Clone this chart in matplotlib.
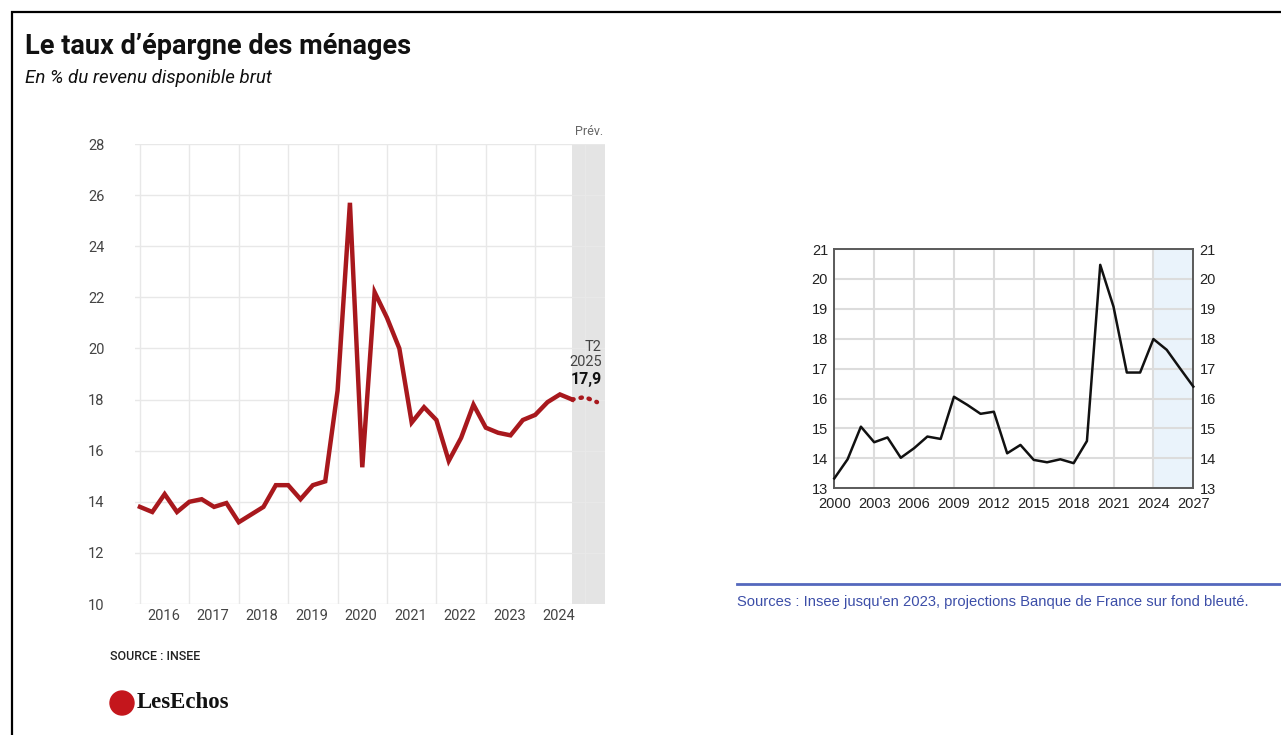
import matplotlib
matplotlib.use("Agg")
import matplotlib.pyplot as plt
from matplotlib.patches import Rectangle, Circle

# ---------------- data ----------------
# Left chart: quarterly savings rate, 2016 T1 .. 2025 T2 (last two = forecast)
left_values = [13.8, 13.6, 14.3, 13.6, 14.0, 14.1, 13.8, 13.95,
               13.2, 13.5, 13.8, 14.65, 14.65, 14.1, 14.65, 14.8,
               18.35, 25.7, 15.35, 22.2, 21.2, 20.0, 17.1, 17.7,
               17.2, 15.6, 16.5, 17.8, 16.9, 16.7, 16.6, 17.2,
               17.4, 17.9, 18.2, 18.0, 18.1, 17.9]
n_actual = 36  # number of published quarters
left_year_labels = ["2016", "2017", "2018", "2019", "2020",
                    "2021", "2022", "2023", "2024"]
left_yticks = [10, 12, 14, 16, 18, 20, 22, 24, 26, 28]

# Right chart: annual savings rate 2000..2027
right_years = list(range(2000, 2028))
right_values = [13.33, 13.97, 15.06, 14.54, 14.7, 14.02, 14.34, 14.73,
                14.65, 16.06, 15.79, 15.49, 15.56, 14.17, 14.45, 13.95,
                13.87, 13.97, 13.84, 14.58, 20.47, 19.07, 16.87, 16.87,
                17.99, 17.63, 17.01, 16.4]
right_xticks = [2000, 2003, 2006, 2009, 2012, 2015, 2018, 2021, 2024, 2027]
right_yticks = [13, 14, 15, 16, 17, 18, 19, 20, 21]
forecast_start_right = 2024

W, H = 1281, 735
fig = plt.figure(figsize=(W / 100, H / 100), dpi=100)
fig.patch.set_facecolor("white")

def fx(px):
    return px / W

def fy(py):
    return 1 - py / H

# outer frame
fig.patches.append(Rectangle((fx(12), fy(760)), fx(1300) - fx(12), fy(12) - fy(760),
                             transform=fig.transFigure, fill=False,
                             edgecolor="black", linewidth=1.6, zorder=0))

# title / subtitle
fig.text(fx(25), fy(46), "Le taux d’épargne des ménages", fontsize=19.5,
         fontweight="bold", family="Roboto", color="#111111", va="center")
fig.text(fx(25), fy(78), "En % du revenu disponible brut", fontsize=13.5,
         style="italic", family="Roboto", color="#111111", va="center")

# ---------------- left chart ----------------
axL = fig.add_axes([fx(135), fy(604), fx(605) - fx(135), fy(144) - fy(604)])
x = list(range(len(left_values)))
axL.set_xlim(-0.4, 37.65)
axL.set_ylim(10, 28)
for s in axL.spines.values():
    s.set_visible(False)
axL.set_yticks(left_yticks)
axL.set_yticklabels([str(v) for v in left_yticks], family="Roboto",
                    fontsize=10.5, color="#444444")
axL.set_xticks([4 * k for k in range(10)])
axL.set_xticklabels([])
axL.tick_params(length=0, pad=22)
axL.grid(True, color="#e8e8e8", linewidth=1)
axL.set_axisbelow(True)
for k, lab in enumerate(left_year_labels):
    axL.text(4 * k + 1.9, 9.82, lab, ha="center", va="top", family="Roboto",
             fontsize=10.5, color="#444444")

# forecast shading
axL.axvspan(n_actual - 1, 37.65, color="#e4e4e4", zorder=0.1, linewidth=0)
axL.text(37.5, 28.25, "Prév.", ha="right", va="bottom", fontsize=9,
         family="Roboto", color="#666666")

axL.plot(x[:n_actual], left_values[:n_actual], color="#a8181d", linewidth=3.2,
         solid_joinstyle="miter", zorder=3)
axL.plot(x[n_actual - 1:], left_values[n_actual - 1:], color="#a8181d",
         linewidth=3.2, linestyle=(0, (0.3, 1.6)), dash_capstyle="round", zorder=3)

axL.text(37.4, 19.2, "T2\n2025", ha="right", va="bottom", fontsize=10.5,
         family="Roboto", color="#444444", linespacing=1.1)
axL.text(37.4, 18.8, "17,9", ha="right", va="center", fontsize=11.5,
         family="Roboto", fontweight="bold", color="#111111")

# source + logo
fig.text(fx(110), fy(657), "SOURCE : INSEE", fontsize=9, family="Roboto",
         color="#222222", va="center", fontweight="medium")
fig.patches.append(Circle((1.22, (H - 703) / 100), 0.12,
                          transform=fig.dpi_scale_trans, color="#c4161c", zorder=2))
fig.text(fx(137), fy(703), "LesEchos", fontsize=16.5, family="Liberation Serif",
         fontweight="bold", color="#111111", va="center")

# ---------------- right chart ----------------
axR = fig.add_axes([fx(834.3), fy(488.3), fx(1193.3) - fx(834.3), fy(249) - fy(488.3)])
axR.set_xlim(2000, 2027)
axR.set_ylim(13, 21)
axR.axvspan(forecast_start_right, 2027, color="#eaf3fb", zorder=0, linewidth=0)
axR.set_xticks(right_xticks)
axR.set_yticks(right_yticks)
axR.grid(True, color="#dcdcdc", linewidth=1.5)
axR.set_axisbelow(True)
for s in axR.spines.values():
    s.set_color("#5a5a5a")
    s.set_linewidth(1.4)
axR.tick_params(axis="y", length=0, labelsize=10.5, labelcolor="#222222", pad=4.5,
                left=True, right=True, labelleft=True, labelright=True)
axR.tick_params(axis="x", length=0, labelsize=10.5, labelcolor="#222222", pad=6)
for lab in axR.get_xticklabels() + axR.yaxis.get_ticklabels(which="both"):
    lab.set_family("Liberation Sans")
for t in axR.yaxis.get_major_ticks():
    t.label2.set_family("Liberation Sans")
axR.plot(right_years, right_values, color="#111111", linewidth=1.8, zorder=3,
         clip_on=False)

# source line for right chart
fig.add_artist(plt.Line2D([fx(737), fx(1281)], [fy(584), fy(584)],
                          transform=fig.transFigure, color="#5468bd", linewidth=2))
fig.text(fx(737), fy(602), "Sources : Insee jusqu'en 2023, projections Banque de France sur fond bleuté.",
         fontsize=10.6, family="Liberation Sans", color="#3c4ea8", va="center")

fig.savefig("out.png", dpi=100)
